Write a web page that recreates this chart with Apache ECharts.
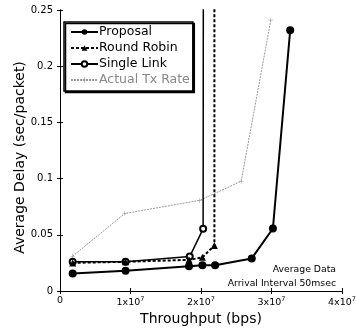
<!DOCTYPE html>
<html>
<head>
<meta charset="utf-8">
<script src="https://cdn.jsdelivr.net/npm/echarts@6/dist/echarts.min.js"></script>
<style>
  html, body { margin: 0; padding: 0; background: #fff; }
  #chart { width: 356px; height: 329px; }
</style>
</head>
<body>
<div id="chart"></div>
<script>
// values: [throughput (bps), delay (sec/packet)]
const proposal = [[1.8e6, 0.0155], [9.3e6, 0.018], [1.83e7, 0.022], [2.02e7, 0.023], [2.2e7, 0.023], [2.72e7, 0.029], [3.02e7, 0.0556], [3.265e7, 0.232]]
const roundRobin = [[1.8e6, 0.025], [9.3e6, 0.026], [1.83e7, 0.0277], [2.02e7, 0.030], [2.19e7, 0.0405], [2.19e7, 0.4]]
const singleLink = [[1.8e6, 0.026], [9.3e6, 0.026], [1.84e7, 0.0306], [2.03e7, 0.0553], [2.035e7, 0.4]]
const actualTxRate = [[1.8e6, 0.031], [9.2e6, 0.069], [1.98e7, 0.0806], [2.57e7, 0.0976], [2.99e7, 0.241]]

const seriesNames = ['Proposal', 'Round Robin', 'Single Link', 'Actual Tx Rate']
const noteLines = ['Average Data', 'Arrival Interval 50msec']

const FONT = 'DejaVu Sans'
const plus = 'path://M4.5,0L5.5,0L5.5,4.5L10,4.5L10,5.5L5.5,5.5L5.5,10L4.5,10L4.5,5.5L0,5.5L0,4.5L4.5,4.5Z'

const chart = echarts.init(document.getElementById('chart'), undefined, { renderer: 'canvas' })

const plainAxis = {
  axisLine: { show: true, lineStyle: { color: '#000', width: 1 } },
  axisTick: { show: true, inside: true, length: 3, lineStyle: { color: '#000' } },
  splitLine: { show: false },
}

chart.setOption({
  animation: false,
  textStyle: { fontFamily: FONT },
  grid: { left: 60, right: 14, top: 10, bottom: 38, outerBoundsMode: 'none' },
  legend: {
    orient: 'vertical',
    left: 64,
    top: 22,
    padding: [2, 3, 3, 6],
    itemGap: 0,
    itemWidth: 27,
    itemHeight: 7,
    backgroundColor: '#fff',
    borderColor: '#000',
    borderWidth: 1.5,
    borderRadius: 0,
    shadowColor: '#000',
    shadowBlur: 0,
    shadowOffsetX: 1.5,
    shadowOffsetY: 1.5,
    textStyle: { fontSize: 12.5, lineHeight: 16, color: '#000', fontFamily: FONT, padding: [0, 0, 0, -4] },
    data: [
      seriesNames[0],
      seriesNames[1],
      seriesNames[2],
      { name: seriesNames[3], textStyle: { color: '#888' } },
    ],
  },
  xAxis: [
    {
      ...plainAxis,
      type: 'value',
      min: 0,
      max: 4e7,
      interval: 1e7,
      name: 'Throughput (bps)',
      nameLocation: 'middle',
      nameGap: 21,
      nameMoveOverlap: false,
      nameTextStyle: { fontSize: 14, color: '#000', fontFamily: FONT },
      axisLabel: {
        color: '#000',
        fontSize: 9.5,
        margin: 5,
        formatter: (v) => (v === 0 ? '0' : `{b|${v / 1e7}x10}{s|7}`),
        rich: {
          b: { fontSize: 9.5, color: '#000', fontFamily: FONT },
          s: { fontSize: 6.5, color: '#000', fontFamily: FONT, padding: [0, 0, 6, 0] },
        },
      },
    },
    {
      ...plainAxis,
      type: 'value',
      position: 'top',
      min: 0,
      max: 4e7,
      interval: 1e7,
      axisLabel: { show: false },
    },
  ],
  yAxis: [
    {
      ...plainAxis,
      type: 'value',
      min: 0,
      max: 0.25,
      interval: 0.05,
      name: 'Average Delay (sec/packet)',
      nameLocation: 'middle',
      nameGap: 33,
      nameMoveOverlap: false,
      nameTextStyle: { fontSize: 14, color: '#000', fontFamily: FONT, padding: [0, 14, 0, 0] },
      axisLabel: { color: '#000', fontSize: 10, margin: 7 },
    },
    {
      ...plainAxis,
      type: 'value',
      position: 'right',
      min: 0,
      max: 0.25,
      interval: 0.05,
      axisLabel: { show: false },
    },
  ],
  series: [
    {
      name: seriesNames[0],
      type: 'line',
      data: proposal,
      symbol: 'circle',
      symbolSize: 8,
      itemStyle: { color: '#000' },
      lineStyle: { color: '#000', width: 2 },
      z: 5,
    },
    {
      name: seriesNames[1],
      type: 'line',
      data: roundRobin,
      symbol: 'triangle',
      symbolSize: 7,
      itemStyle: { color: '#000' },
      lineStyle: { color: '#000', width: 2, type: [3, 2] },
      z: 4,
    },
    {
      name: seriesNames[2],
      type: 'line',
      data: singleLink,
      symbol: 'emptyCircle',
      symbolSize: 6,
      itemStyle: { color: '#000', borderWidth: 1 },
      lineStyle: { color: '#000', width: 1.5 },
      z: 3,
    },
    {
      name: seriesNames[3],
      type: 'line',
      data: actualTxRate,
      symbol: plus,
      symbolSize: 5,
      itemStyle: { color: '#999' },
      lineStyle: { color: '#999', width: 1, type: [2, 1] },
      z: 2,
    },
  ],
  graphic: noteLines.map((t, i) => ({
    type: 'text',
    right: 20,
    top: 265 + i * 14,
    style: { text: t, fontSize: 9.3, fill: '#000', fontFamily: FONT },
  })),
})

window.addEventListener('resize', () => chart.resize())
</script>
</body>
</html>
